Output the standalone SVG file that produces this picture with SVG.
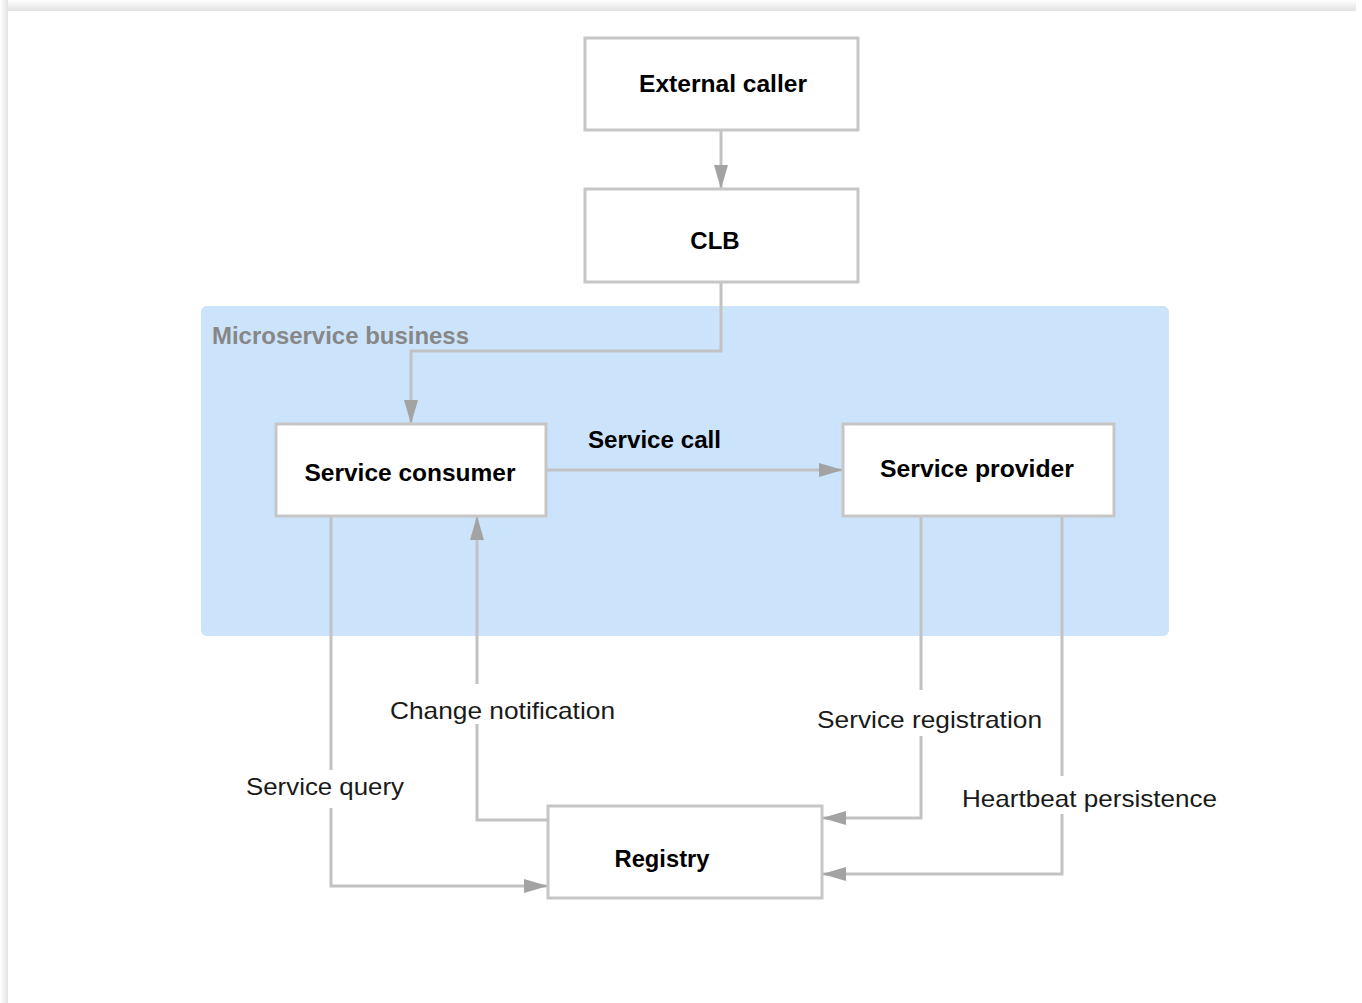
<svg xmlns="http://www.w3.org/2000/svg" width="1362" height="1003" viewBox="0 0 1362 1003">
  <defs>
    <linearGradient id="shTop" x1="0" y1="0" x2="0" y2="1">
      <stop offset="0" stop-color="#ffffff"/>
      <stop offset="1" stop-color="#e2e2e2"/>
    </linearGradient>
    <linearGradient id="shLeft" x1="0" y1="0" x2="1" y2="0">
      <stop offset="0" stop-color="#ffffff"/>
      <stop offset="1" stop-color="#e2e2e2"/>
    </linearGradient>
    <marker id="arr" viewBox="0 0 10 10" refX="10" refY="5" markerWidth="8" markerHeight="8" markerUnits="userSpaceOnUse" orient="auto">
      <path d="M0,0 L10,5 L0,10 z" fill="#a3a3a3"/>
    </marker>
    <marker id="arrL" viewBox="0 0 24 16" refX="24" refY="8" markerWidth="24" markerHeight="16" markerUnits="userSpaceOnUse" orient="auto">
      <path d="M0,1 L24,8 L0,15 z" fill="#a3a3a3"/>
    </marker>
  </defs>
  <style>
    .node rect { fill: #ffffff; stroke: #c6c6c6; stroke-width: 3; }
    .ntxt { font-family: "Liberation Sans", Arial, sans-serif; font-weight: bold; font-size: 24px; fill: #000000; text-anchor: middle; }
    .etxt { font-family: "Liberation Sans", Arial, sans-serif; font-size: 24px; fill: #1a1a1a; }
    .conn { fill: none; stroke: #c2c2c2; stroke-width: 3; marker-end: url(#arrL); }
    .mask { fill: #ffffff; }
  </style>

  <!-- page background and shadow -->
  <rect x="0" y="0" width="1362" height="1003" fill="#ffffff"/>
  <rect x="0" y="0" width="1356" height="11" fill="url(#shTop)"/>
  <rect x="0" y="0" width="8" height="1003" fill="url(#shLeft)"/>

  <!-- group region -->
  <g id="microservice-business">
    <rect x="201" y="306" width="968" height="330" rx="6" fill="#cce4fb"/>
    <text x="212" y="344" font-family="Liberation Sans, Arial, sans-serif" font-weight="bold" font-size="24" fill="#878787" textLength="257" lengthAdjust="spacingAndGlyphs">Microservice business</text>
  </g>

  <!-- connectors -->
  <g id="connectors">
    <path class="conn" d="M721,130 L721,189"/>
    <path class="conn" d="M721,282 L721,351 L411,351 L411,424"/>
    <path class="conn" d="M546,470 L843,470"/>
    <path class="conn" d="M331,516 L331,886 L548,886"/>
    <path class="conn" d="M548,820 L477,820 L477,516"/>
    <path class="conn" d="M921,516 L921,818 L822,818"/>
    <path class="conn" d="M1062,516 L1062,874 L822,874"/>
  </g>

  <!-- connector labels -->
  <g id="labels">
    <text x="588" y="448" class="ntxt" style="text-anchor:start" textLength="133" lengthAdjust="spacingAndGlyphs">Service call</text>
    <rect class="mask" x="386" y="684" width="234" height="40"/>
    <text x="390" y="719" class="etxt" textLength="225" lengthAdjust="spacingAndGlyphs">Change notification</text>
    <rect class="mask" x="242" y="770" width="166" height="38"/>
    <text x="246" y="795" class="etxt" textLength="158" lengthAdjust="spacingAndGlyphs">Service query</text>
    <rect class="mask" x="813" y="690" width="233" height="46"/>
    <text x="817" y="728" class="etxt" textLength="225" lengthAdjust="spacingAndGlyphs">Service registration</text>
    <rect class="mask" x="958" y="776" width="263" height="38"/>
    <text x="962" y="807" class="etxt" textLength="255" lengthAdjust="spacingAndGlyphs">Heartbeat persistence</text>
  </g>

  <!-- nodes -->
  <g id="external-caller" class="node">
    <rect x="585" y="38" width="273" height="92"/>
    <text x="723" y="92" class="ntxt" textLength="168" lengthAdjust="spacingAndGlyphs">External caller</text>
  </g>
  <g id="clb" class="node">
    <rect x="585" y="189" width="273" height="93"/>
    <text x="715" y="249" class="ntxt">CLB</text>
  </g>
  <g id="service-consumer" class="node">
    <rect x="276" y="424" width="270" height="92"/>
    <text x="410" y="481" class="ntxt" textLength="211" lengthAdjust="spacingAndGlyphs">Service consumer</text>
  </g>
  <g id="service-provider" class="node">
    <rect x="843" y="424" width="271" height="92"/>
    <text x="977" y="477" class="ntxt" textLength="194" lengthAdjust="spacingAndGlyphs">Service provider</text>
  </g>
  <g id="registry" class="node">
    <rect x="548" y="806" width="274" height="92"/>
    <text x="662" y="867" class="ntxt" textLength="95" lengthAdjust="spacingAndGlyphs">Registry</text>
  </g>
</svg>
